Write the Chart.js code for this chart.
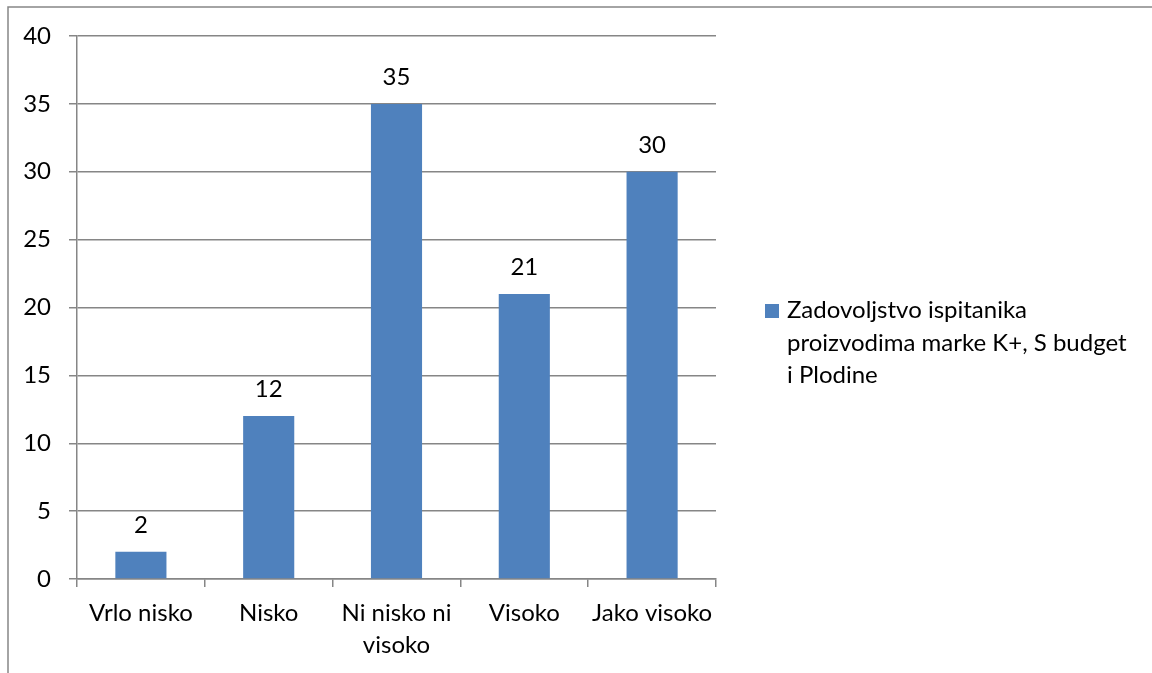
<!DOCTYPE html>
<html lang="hr">
<head>
    <meta charset="UTF-8">
    <title>Zadovoljstvo ispitanika</title>
    <style>
        html, body { margin: 0; padding: 0; background: #fff; }
        canvas { display: block; }
    </style>
</head>
<body>
    <script src="https://cdn.jsdelivr.net/npm/chart.js@4.4.0/dist/chart.umd.min.js"></script>
    <canvas id="grafikon" width="1152" height="673"></canvas>
    <script>
        var kategorije = ['Vrlo nisko', 'Nisko', ['Ni nisko ni', 'visoko'], 'Visoko', 'Jako visoko'];
        var vrijednosti = [2, 12, 35, 21, 30];
        var nazivSerije = 'Zadovoljstvo ispitanika proizvodima marke K+, S budget i Plodine';
        var legendaRedovi = ['Zadovoljstvo ispitanika', 'proizvodima marke K+, S budget', 'i Plodine'];

        var plava = '#4F81BD';
        var siva = '#868686';

        Chart.defaults.font.family = 'Lato';
        Chart.defaults.font.size = 24;
        Chart.defaults.color = '#000';

        // okvir, oznake vrijednosti i legenda
        var dodatci = {
            id: 'dodatci',
            beforeDraw: function (chart) {
                var ctx = chart.ctx;
                ctx.save();
                ctx.strokeStyle = siva;
                ctx.lineWidth = 1.5;
                ctx.beginPath();
                ctx.moveTo(8, 673);
                ctx.lineTo(8, 7);
                ctx.lineTo(1152, 7);
                ctx.stroke();
                ctx.restore();
            },
            afterDatasetsDraw: function (chart) {
                var ctx = chart.ctx;
                var meta = chart.getDatasetMeta(0);
                ctx.save();
                ctx.font = '24px Lato';
                ctx.fillStyle = '#000';
                ctx.textAlign = 'center';
                ctx.textBaseline = 'alphabetic';
                meta.data.forEach(function (bar, i) {
                    ctx.fillText(String(chart.data.datasets[0].data[i]), bar.x, bar.y - 19);
                });
                ctx.restore();
            },
            afterDraw: function (chart) {
                var ctx = chart.ctx;
                var x = chart.chartArea.right + 49;
                var y = 304;
                ctx.save();
                ctx.fillStyle = plava;
                ctx.fillRect(x, y, 14, 14);
                ctx.font = '24px Lato';
                ctx.fillStyle = '#000';
                ctx.textAlign = 'left';
                ctx.textBaseline = 'alphabetic';
                legendaRedovi.forEach(function (red, i) {
                    ctx.fillText(red, x + 22, 318 + i * 32.5);
                });
                ctx.restore();
            }
        };

        var data = {
            labels: kategorije,
            datasets: [{
                label: nazivSerije,
                data: vrijednosti,
                backgroundColor: plava,
                borderWidth: 0,
                categoryPercentage: 1,
                barPercentage: 0.4
            }]
        };

        var options = {
            responsive: false,
            animation: false,
            layout: {
                padding: { left: 0, top: 36, right: 436, bottom: 0 }
            },
            scales: {
                x: {
                    afterFit: function (scale) { scale.height = 94; },
                    grid: {
                        offset: true,
                        drawOnChartArea: false,
                        drawTicks: true,
                        tickLength: 8,
                        color: siva,
                        lineWidth: 1.5
                    },
                    border: { color: siva, width: 1.5 },
                    ticks: {
                        padding: 10,
                        maxRotation: 0,
                        font: { size: 24, lineHeight: 1.33 }
                    }
                },
                y: {
                    min: 0,
                    max: 40,
                    afterFit: function (scale) { scale.width = 77; },
                    grid: {
                        color: siva,
                        lineWidth: 1.5,
                        tickLength: 8
                    },
                    border: { color: siva, width: 1.5 },
                    ticks: {
                        stepSize: 5,
                        padding: 18,
                        font: { size: 24 }
                    }
                }
            },
            plugins: {
                legend: { display: false },
                tooltip: { enabled: false }
            }
        };

        window.onload = function () {
            var kontekst = document.getElementById('grafikon').getContext('2d');
            window.stupci = new Chart(kontekst, {
                type: 'bar',
                data: data,
                options: options,
                plugins: [dodatci]
            });
        };
    </script>
</body>
</html>
